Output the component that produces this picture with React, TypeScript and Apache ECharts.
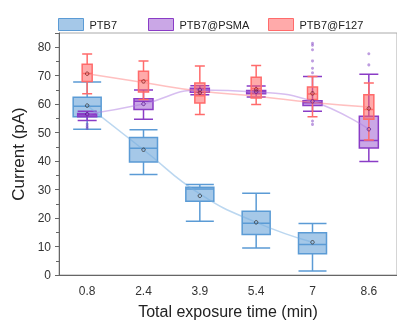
import React, { useEffect, useRef } from "react";
import * as echarts from "echarts";

const categories = ["0.8", "2.4", "3.9", "5.4", "7", "8.6"];
const seriesNames = ["PTB7", "PTB7@PSMA", "PTB7@F127"];

// [min, Q1, median, Q3, max]
const ptb7Box = [
  [51.2, 55.6, 59.3, 62.4, 67.8],
  [35.3, 39.7, 44.5, 48.3, 51.0],
  [18.9, 25.9, 30.2, 30.8, 31.8],
  [9.5, 14.2, 18.2, 22.4, 28.7],
  [1.4, 7.5, 10.7, 14.8, 18.1],
];
const psmaBox = [
  [54.3, 55.6, 56.2, 56.7, 57.5],
  [54.7, 58.1, 61.0, 61.9, 65.0],
  [63.3, 64.2, 65.0, 65.6, 66.5],
  [62.5, 63.7, 64.3, 64.8, 66.4],
  [57.5, 59.5, 60.5, 61.2, 69.7],
  [39.9, 44.6, 47.2, 55.8, 70.5],
];
const f127Box = [
  [63.7, 68.0, 70.8, 74.0, 77.6],
  [61.6, 64.3, 68.3, 71.6, 75.2],
  [56.4, 60.4, 63.0, 67.4, 73.4],
  [59.9, 62.2, 65.5, 69.5, 73.6],
  [55.6, 61.6, 63.6, 66.0, 69.7],
  [47.4, 54.7, 58.1, 63.3, 67.4],
];

const ptb7Mean = [59.5, 44.0, 27.8, 18.5, 11.5];
const psmaMean = [56.5, 60.1, 65.0, 64.4, 61.0, 51.2];
const f127Mean = [70.7, 68.0, 64.0, 65.2, 63.8, 58.5];

const ptb7Trend = [59.5, 44.0, 28.5, 18.5, 11.5];
const psmaTrend = [56.5, 60.1, 65.0, 64.3, 61.0, 51.2];
const f127Trend = [70.7, 67.6, 64.6, 62.8, 60.6, 59.0];

// [category index, value]
const psmaOutliers = [
  [0, 53.0], [0, 52.2], [0, 51.5],
  [4, 71.0], [4, 72.6], [4, 75.2], [4, 79.1], [4, 80.7], [4, 81.4], [4, 54.1], [4, 52.9],
  [5, 73.8], [5, 77.7],
];

const yTicks = [0, 10, 20, 30, 40, 50, 60, 70, 80];

const FONT = '"Liberation Sans", Arial, sans-serif';

const blue = "#5b9bd5";
const purple = "#8a3cc6";
const red = "#ff6b6b";
const blueFill = "rgba(91,155,213,0.55)";
const purpleFill = "rgba(150,80,205,0.5)";
const redFill = "rgba(255,100,100,0.55)";

export default function App() {
  const ref = useRef<HTMLDivElement>(null);
  useEffect(() => {
    if (!ref.current) return;
    const chart = echarts.init(ref.current, undefined, { renderer: "svg" });
    const hiddenX = () => ({
      type: "category",
      data: categories,
      gridIndex: 0,
      show: false,
      boundaryGap: true,
    });
    const legendFor = (name: string, left: number, fill: string, border: string) => ({
      top: 18,
      left,
      padding: 0,
      itemWidth: 25,
      itemHeight: 12,
      icon: "rect",
      data: [{ name, itemStyle: { color: fill, borderColor: border, borderWidth: 1 } }],
      textStyle: { fontSize: 11, color: "#222", fontFamily: FONT, padding: [0, 0, 0, 1] },
    });
    const meanSeries = (data: number[], border: string) => ({
      type: "scatter",
      data,
      symbol: "circle",
      symbolSize: 3.5,
      itemStyle: { color: "rgba(0,0,0,0)", borderColor: border, borderWidth: 1 },
      z: 7,
      silent: true,
    });
    chart.setOption({
      animation: false,
      textStyle: { fontFamily: FONT },
      grid: {
        left: 59,
        top: 33,
        width: 342,
        bottom: 46,
        show: true,
        borderColor: "#aaa",
        borderWidth: 1,
      },
      legend: [
        legendFor(seriesNames[0], 58, blueFill, blue),
        legendFor(seriesNames[1], 148, purpleFill, purple),
        legendFor(seriesNames[2], 268, redFill, red),
      ],
      xAxis: [
        {
          type: "category",
          data: categories,
          boundaryGap: true,
          name: "Total exposure time (min)",
          nameLocation: "middle",
          nameGap: 28,
          nameTextStyle: { fontSize: 16, color: "#222", fontFamily: FONT },
          axisLine: { lineStyle: { color: "#666" } },
          axisTick: { alignWithLabel: true, interval: 0, length: 4, lineStyle: { color: "#666" } },
          axisLabel: { fontSize: 12, color: "#333", margin: 10, fontFamily: FONT },
          splitLine: { show: false },
        },
        hiddenX(),
        hiddenX(),
      ],
      yAxis: {
        type: "value",
        min: 0,
        max: 85,
        interval: 10,
        name: "Current (pA)",
        nameLocation: "middle",
        nameGap: 32,
        nameTextStyle: { fontSize: 17, color: "#222", fontFamily: FONT },
        axisLine: { show: true, lineStyle: { color: "#666" } },
        axisTick: { show: true, length: 4, lineStyle: { color: "#666" } },
        minorTick: { show: true, splitNumber: 2, length: 3, lineStyle: { color: "#666" } },
        axisLabel: {
          fontSize: 12,
          color: "#333",
          fontFamily: FONT,
          showMaxLabel: false,
          formatter: (v: number) => (yTicks.includes(v) ? String(v) : ""),
        },
        splitLine: { show: false },
      },
      series: [
        {
          name: seriesNames[0],
          type: "boxplot",
          xAxisIndex: 0,
          boxWidth: [28, 28],
          data: ptb7Box,
          itemStyle: { color: blueFill, borderColor: blue, borderWidth: 1.5 },
          z: 2,
        },
        {
          name: seriesNames[1],
          type: "boxplot",
          xAxisIndex: 1,
          boxWidth: [19, 19],
          data: psmaBox,
          itemStyle: { color: purpleFill, borderColor: purple, borderWidth: 1.5 },
          z: 3,
        },
        {
          name: seriesNames[2],
          type: "boxplot",
          xAxisIndex: 2,
          boxWidth: [10, 10],
          data: f127Box,
          itemStyle: { color: redFill, borderColor: red, borderWidth: 1.5 },
          z: 4,
        },
        {
          type: "line",
          smooth: true,
          data: ptb7Trend,
          showSymbol: false,
          lineStyle: { color: "rgba(120,175,225,0.5)", width: 1.5 },
          z: 5,
          silent: true,
        },
        {
          type: "line",
          smooth: true,
          data: psmaTrend,
          showSymbol: false,
          lineStyle: { color: "rgba(175,125,225,0.5)", width: 1.5 },
          z: 5,
          silent: true,
        },
        {
          type: "line",
          smooth: true,
          data: f127Trend,
          showSymbol: false,
          lineStyle: { color: "rgba(255,130,130,0.5)", width: 1.5 },
          z: 5,
          silent: true,
        },
        {
          type: "scatter",
          data: psmaOutliers,
          symbolSize: 3,
          itemStyle: { color: "rgba(120,50,190,0.6)" },
          z: 6,
        },
        meanSeries(ptb7Mean, "#333"),
        meanSeries(psmaMean, "#5a1a8a"),
        meanSeries(f127Mean, "#7a2020"),
      ],
    });
    return () => chart.dispose();
  }, []);
  return (
    <div
      ref={ref}
      style={{ position: "fixed", left: 0, top: 0, width: 397, height: 324 }}
    />
  );
}
